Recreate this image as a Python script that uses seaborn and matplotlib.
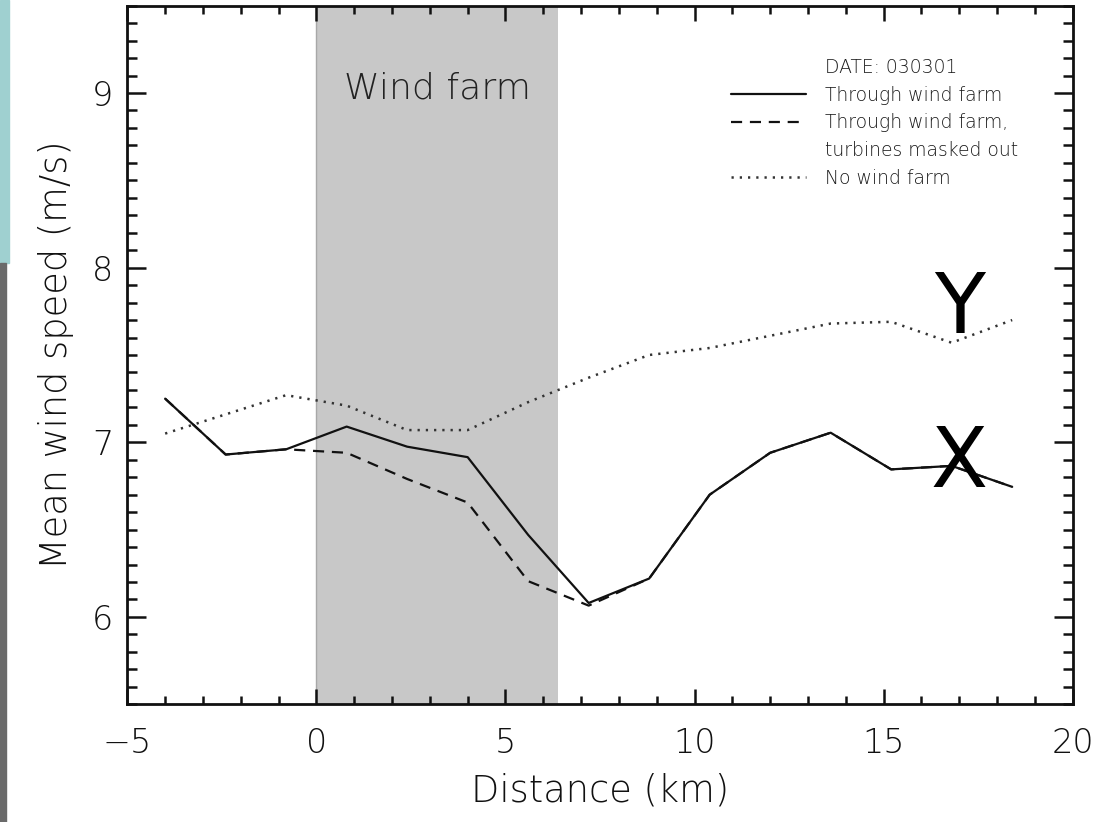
import matplotlib
matplotlib.use("Agg")
import matplotlib.pyplot as plt
from matplotlib.lines import Line2D
from matplotlib.patches import Rectangle
from matplotlib.ticker import MultipleLocator
import seaborn as sns
import pandas as pd

# ---------------- data ----------------
distance_km = [-4.0, -2.4, -0.8, 0.8, 2.4, 4.0, 5.6, 7.2, 8.8, 10.4, 12.0, 13.6, 15.2, 16.8, 18.4]
through_farm = [7.25, 6.93, 6.96, 7.09, 6.975, 6.915, 6.47, 6.08, 6.22, 6.70, 6.94, 7.055, 6.845, 6.865, 6.745]
turbines_masked = [7.25, 6.93, 6.96, 6.94, 6.79, 6.655, 6.205, 6.065, 6.22, 6.70, 6.94, 7.055, 6.845, 6.865, 6.745]
no_wind_farm = [7.05, 7.16, 7.27, 7.21, 7.07, 7.07, 7.23, 7.37, 7.50, 7.54, 7.61, 7.68, 7.69, 7.57, 7.70]
wind_farm_span = [0.0, 6.4]
x_ticks = [-5, 0, 5, 10, 15, 20]
y_ticks = [6, 7, 8, 9]
legend_title = "DATE: 030301"
series_labels = ["Through wind farm", "Through wind farm,", "turbines masked out", "No wind farm"]

df = pd.DataFrame({
    "distance": distance_km,
    "through": through_farm,
    "masked": turbines_masked,
    "nofarm": no_wind_farm,
})

# ---------------- style ----------------
sns.set_style("ticks")
plt.rcParams["font.family"] = ["DejaVu Sans"]
plt.rcParams["font.weight"] = "light"
plt.rcParams["axes.labelweight"] = "light"
plt.rcParams["text.color"] = "#111111"
plt.rcParams["axes.labelcolor"] = "#111111"
plt.rcParams["xtick.color"] = "#111111"
plt.rcParams["ytick.color"] = "#111111"

fig = plt.figure(figsize=(11.19, 8.22), dpi=100)
fig.subplots_adjust(left=0.1138, right=0.9586, bottom=0.1432, top=0.9931)
ax = fig.add_subplot(111)

# slide decoration strips on the left edge
fig.patches.append(Rectangle((0, 1 - 263 / 822), 9 / 1119, 263 / 822,
                             transform=fig.transFigure, color="#9fd0d0", zorder=0))
fig.patches.append(Rectangle((0, 0), 6 / 1119, 1 - 263 / 822,
                             transform=fig.transFigure, color="#6a6a6a", zorder=0))

# wind farm shading
ax.axvspan(wind_farm_span[0], wind_farm_span[1], color="#c8c8c8", zorder=0, lw=0)
ax.axvline(wind_farm_span[0], color="#a8a8a8", lw=1, zorder=0.5)

sns.lineplot(data=df, x="distance", y="masked", ax=ax, color="#111111",
             lw=1.6, dashes=(5, 3.5), zorder=2)
sns.lineplot(data=df, x="distance", y="through", ax=ax, color="#111111",
             lw=1.6, zorder=3)
sns.lineplot(data=df, x="distance", y="nofarm", ax=ax, color="#333333",
             lw=1.8, dashes=(0.9, 2.4), zorder=2)

ax.set_xlim(-5, 20)
ax.set_ylim(5.5, 9.5)
ax.set_xticks(x_ticks)
ax.set_yticks(y_ticks)
ax.xaxis.set_minor_locator(MultipleLocator(1))
ax.yaxis.set_minor_locator(MultipleLocator(0.1))
ax.set_xticklabels(["\u2212" + str(abs(v)) if v < 0 else str(v) for v in x_ticks])

ax.tick_params(axis="both", which="both", direction="in", top=True, right=True,
               width=1.8, labelsize=24)
ax.tick_params(axis="x", which="major", length=11, pad=16)
ax.tick_params(axis="x", which="minor", length=6)
ax.tick_params(axis="y", which="major", length=14, pad=10)
ax.tick_params(axis="y", which="minor", length=7)
for lab in ax.get_xticklabels() + ax.get_yticklabels():
    lab.set_fontweight("light")

for sp in ax.spines.values():
    sp.set_linewidth(2.0)
    sp.set_color("#111111")

ax.set_xlabel("Distance (km)", fontsize=26.5, labelpad=9, fontweight="light")
ax.set_ylabel("Mean wind speed (m/s)", fontsize=26.5, labelpad=13, fontweight="light")

# annotations
ax.text(sum(wind_farm_span) / 2, 8.966, "Wind farm", fontsize=26, ha="center",
        va="baseline", color="#222222", fontweight="light")
ax.text(17.0, 7.625, "Y", fontsize=60, ha="center", va="baseline", color="black",
        fontweight="normal")
ax.text(17.0, 6.743, "X", fontsize=60, ha="center", va="baseline", color="black",
        fontweight="normal")

# legend
lines = ax.get_lines()
masked_line, through_line, nofarm_line = [l for l in lines if l.get_xydata().shape[0] > 2][:3]
blank = Line2D([], [], color="none")
handles = [blank, through_line, masked_line, blank, nofarm_line]
labels = [legend_title] + series_labels
leg = ax.legend(handles, labels, loc="upper left", bbox_to_anchor=(0.639, 0.925),
                frameon=False, prop={"size": 13.5, "weight": "light"},
                handlelength=4.0, handletextpad=1.0,
                labelspacing=0.46, borderpad=0, borderaxespad=0)
for t in leg.get_texts():
    t.set_color("#1a1a1a")

fig.savefig("out.png", dpi=100)
